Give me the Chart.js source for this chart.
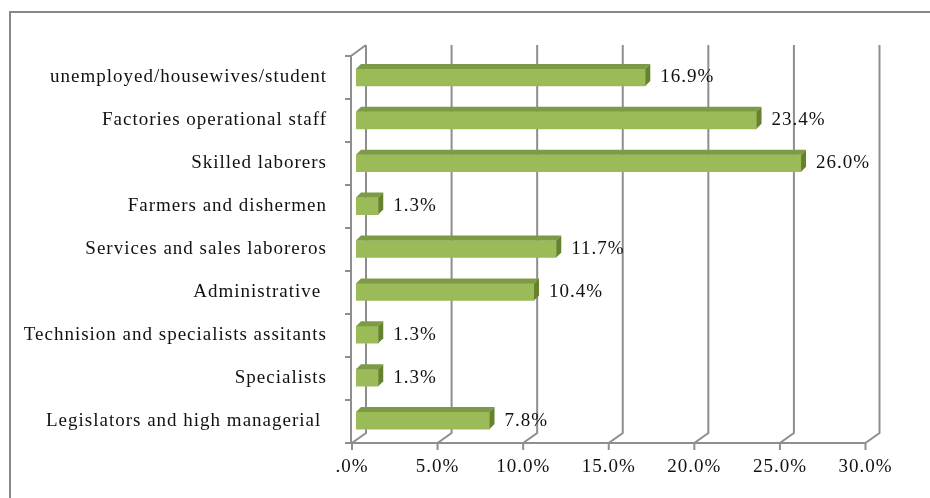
<!DOCTYPE html>
<html>
<head>
<meta charset="utf-8">
<script src="https://cdn.jsdelivr.net/npm/chart.js@4"></script>
<style>
  html, body { margin: 0; padding: 0; background: #fff; }
  #wrap { width: 930px; height: 498px; position: relative; }
</style>
</head>
<body>
<div id="wrap"><canvas id="occChart" width="930" height="498"></canvas></div>
<script>
// Occupation categories, top to bottom
const categories = [
    'unemployed/housewives/student',
    'Factories operational staff',
    'Skilled laborers',
    'Farmers and dishermen',
    'Services and sales laboreros',
    'Administrative ',
    'Technision and specialists assitants',
    'Specialists',
    'Legislators and high managerial '
];
const percentages = [16.9, 23.4, 26.0, 1.3, 11.7, 10.4, 1.3, 1.3, 7.8];
const tickLabels = ['.0%', '5.0%', '10.0%', '15.0%', '20.0%', '25.0%', '30.0%'];

const FONT = '"Liberation Serif", "DejaVu Serif", serif';
const FONT_SIZE = 19;
const GRID = '#8e8e8e';
const DEPTH_X = 14, DEPTH_Y = 10;   // wall depth
const FRONT_DX = -4;                // front plane sits a bit left of the bars
const BAR_D = 5;                    // bar bevel depth

// 3D walls, axis lines and the outer frame
const wallPlugin = {
    id: 'walls',
    beforeDraw(chart) {
        // the original font runs wider than Times, so space the letters a little
        chart.ctx.letterSpacing = '1px';
    },
    beforeDatasetsDraw(chart) {
        const ctx = chart.ctx;
        const xs = chart.scales.x;
        const area = chart.chartArea;
        const fb = area.bottom + 1;          // front bottom
        const bb = fb - DEPTH_Y;             // back bottom
        const bt = area.top - 11;            // back top
        const ft = bt + DEPTH_Y + 1;

        ctx.save();
        // outer frame
        ctx.strokeStyle = '#888';
        ctx.lineWidth = 2;
        ctx.beginPath();
        ctx.moveTo(10, 520);
        ctx.lineTo(10, 12);
        ctx.lineTo(960, 12);
        ctx.stroke();

        ctx.strokeStyle = GRID;
        ctx.lineWidth = 2;
        ctx.beginPath();
        xs.ticks.forEach(t => {
            const px = xs.getPixelForValue(t.value);
            const front = px + FRONT_DX;
            const back = front + DEPTH_X;
            // back wall gridline
            ctx.moveTo(back, bt);
            ctx.lineTo(back, bb);
            // floor diagonal
            ctx.lineTo(front, fb);
            // tick mark
            ctx.lineTo(front, fb + 7);
        });
        // front bottom axis
        const x0 = xs.getPixelForValue(xs.min) + FRONT_DX;
        const x1 = xs.getPixelForValue(xs.max) + FRONT_DX;
        ctx.moveTo(x0, fb);
        ctx.lineTo(x1, fb);
        // left side wall: front vertical and top diagonal
        ctx.moveTo(x0 - 1, fb);
        ctx.lineTo(x0 - 1, ft);
        ctx.lineTo(x0 + DEPTH_X, bt);
        // category separators on left axis
        const step = (fb - ft) / categories.length;
        for (let i = 0; i <= categories.length; i++) {
            const y = ft + i * step;
            ctx.moveTo(x0 - 7, y);
            ctx.lineTo(x0 - 1, y);
        }
        ctx.stroke();
        ctx.restore();
    }
};

// bevels on the bars and value labels
const barPlugin = {
    id: 'bars3d',
    afterDatasetsDraw(chart) {
        const ctx = chart.ctx;
        const meta = chart.getDatasetMeta(0);
        ctx.save();
        meta.data.forEach((bar, i) => {
            const top = bar.y - bar.height / 2;
            const bot = bar.y + bar.height / 2;
            const l = bar.base, r = bar.x;
            // top face
            ctx.fillStyle = '#7d9b46';
            ctx.beginPath();
            ctx.moveTo(l, top);
            ctx.lineTo(l + BAR_D, top - BAR_D);
            ctx.lineTo(r + BAR_D, top - BAR_D);
            ctx.lineTo(r, top);
            ctx.closePath();
            ctx.fill();
            // side face
            ctx.fillStyle = '#66822f';
            ctx.beginPath();
            ctx.moveTo(r, top);
            ctx.lineTo(r + BAR_D, top - BAR_D);
            ctx.lineTo(r + BAR_D, bot - BAR_D);
            ctx.lineTo(r, bot);
            ctx.closePath();
            ctx.fill();
            // value label
            ctx.fillStyle = '#111';
            ctx.font = FONT_SIZE + 'px ' + FONT;
            ctx.textAlign = 'left';
            ctx.textBaseline = 'middle';
            ctx.fillText(percentages[i].toFixed(1) + '%', r + 15, bar.y);
        });
        ctx.restore();
    }
};

const ctx = document.getElementById('occChart').getContext('2d');
new Chart(ctx, {
    type: 'bar',
    data: {
        labels: categories,
        datasets: [{
            data: percentages,
            backgroundColor: '#9bbb59',
            borderWidth: 0,
            barThickness: 17
        }]
    },
    options: {
        indexAxis: 'y',
        responsive: false,
        animation: false,
        layout: { padding: { left: 0, right: 60.5, top: 56, bottom: 0 } },
        plugins: {
            legend: { display: false },
            tooltip: { enabled: false }
        },
        scales: {
            x: {
                min: 0,
                max: 30,
                grid: { display: false, drawTicks: false },
                border: { display: false },
                ticks: {
                    stepSize: 5,
                    padding: 14,
                    labelOffset: FRONT_DX,
                    color: '#111',
                    font: { family: FONT, size: FONT_SIZE },
                    maxRotation: 0,
                    callback: (v, i) => tickLabels[i]
                },
                afterFit: s => { s.height = 56; }
            },
            y: {
                grid: { display: false, drawTicks: false },
                border: { display: false },
                ticks: {
                    padding: 29,
                    color: '#111',
                    font: { family: FONT, size: FONT_SIZE }
                },
                afterFit: s => { s.width = 356; }
            }
        }
    },
    plugins: [wallPlugin, barPlugin]
});
</script>
</body>
</html>
